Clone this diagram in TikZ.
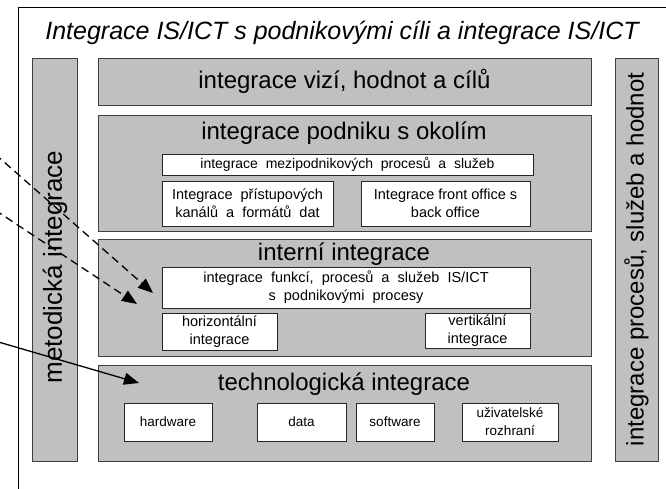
\documentclass[tikz,border=0pt]{standalone}
\usepackage{fontspec}
\setmainfont{Liberation Sans}
\usetikzlibrary{arrows.meta,fit}
\definecolor{boxgray}{HTML}{C0C0C0}
\definecolor{edgegray}{HTML}{404040}
\begin{document}
\begin{tikzpicture}[x=1pt,y=-1pt,
  graybox/.style={draw=edgegray, fill=boxgray, line width=0.9pt, inner sep=0pt},
  whitebox/.style={draw=black!85, fill=white, line width=0.9pt, inner sep=0pt},
  bigtext/.style={font=\fontsize{24}{28}\selectfont, inner sep=0pt},
  smalltext/.style={font=\fontsize{14.5}{18}\selectfont, align=center, inner sep=0pt},
  techtext/.style={font=\fontsize{13.5}{18}\selectfont, align=center, inner sep=0pt},
  arr/.style={line width=1.3pt, -{Triangle[length=15pt,width=12pt]}},
  dasharr/.style={arr, dash pattern=on 8pt off 5pt}
]
\useasboundingbox (0,0) rectangle (666,489);
\clip (0,0) rectangle (666,489);
% outer frame (only its left and top edges are visible)
\draw[line width=0.9pt] (18,7) rectangle (720,540);
\node[font=\fontsize{25}{29}\selectfont\itshape, inner sep=0pt] (title) at (342,33)
  {Integrace IS/ICT s podnikovými cíli a integrace IS/ICT};

% side columns
\node[graybox, fit={(32,58)(77,461)}] (left) {};
\node[graybox, fit={(615,58)(658,461)}] (right) {};
\node[bigtext, font=\fontsize{26}{30}\selectfont, rotate=90] (leftt) at (55,267) {metodická integrace};
\node[bigtext, rotate=90] (rightt) at (right.center) {integrace procesů, služeb a hodnot};

% top box
\node[graybox, fit={(98,58)(591,105)}] (vize) {};
\node[bigtext] (vizet) at (vize.center) {integrace vizí, hodnot a cílů};

% podnik s okolim
\node[graybox, fit={(98,115)(591,231)}] (okoli) {};
\node[bigtext] (okolit) at (344,133) {integrace podniku s okolím};
\node[whitebox, fit={(162,154)(533,175)}] (mezi) {};
\node[smalltext, font=\fontsize{14}{18}\selectfont] (mezit) at (mezi.center) {integrace\ \ mezipodnikových\ \ procesů\ \ a\ \ služeb};
\node[whitebox, fit={(162,181)(333,226)}] (kanaly) {};
\node[smalltext] (kanalyt) at (kanaly.center) {Integrace\ \ přístupových\\kanálů\ \ a\ \ formátů\ \ dat};
\node[whitebox, fit={(361,181)(530,226)}] (front) {};
\node[smalltext] (frontt) at (front.center) {Integrace front office s\\back office};

% interni integrace
\node[graybox, fit={(98,239)(591,356)}] (interni) {};
\node[bigtext] (internit) at (344,254) {interní integrace};
\node[whitebox, fit={(162,267)(530,308)}] (funkce) {};
\node[smalltext] (funkcet) at (funkce.center) {integrace\ \ funkcí,\ \ procesů\ \ a\ \ služeb\ \ IS/ICT\\s\ \ podnikovými\ \ procesy};
\node[whitebox, fit={(162,313)(277,350)}] (horiz) {};
\node[smalltext] (horizt) at (horiz.center) {horizontální\\integrace};
\node[whitebox, fit={(425,313)(530,348)}] (vert) {};
\node[smalltext] (vertt) at (vert.center) {vertikální\\integrace};

% technologicka integrace
\node[graybox, fit={(98,365)(591,461)}] (tech) {};
\node[bigtext] (techt) at (344,384) {technologická integrace};
\node[whitebox, fit={(124,403)(212,441)}] (hw) {};
\node[techtext] (hwt) at (hw.center) {hardware};
\node[whitebox, fit={(257,403)(346,441)}] (data) {};
\node[techtext] (datat) at (data.center) {data};
\node[whitebox, fit={(356,403)(434,441)}] (sw) {};
\node[techtext] (swt) at (sw.center) {software};
\node[whitebox, fit={(462,403)(558,441)}] (ui) {};
\node[techtext] (uit) at (ui.center) {uživatelské\\rozhraní};

% arrows coming from outside the picture
\coordinate (s1) at (-5,154);
\coordinate (t1) at (153,293);
\coordinate (s2) at (-5,210);
\coordinate (t2) at (137,304);
\coordinate (s3) at (-5,341);
\coordinate (t3) at (139,383);
\draw[dasharr] (s1) -- (t1);
\draw[dasharr] (s2) -- (t2);
\draw[arr] (s3) -- (t3);
\end{tikzpicture}
\end{document}
